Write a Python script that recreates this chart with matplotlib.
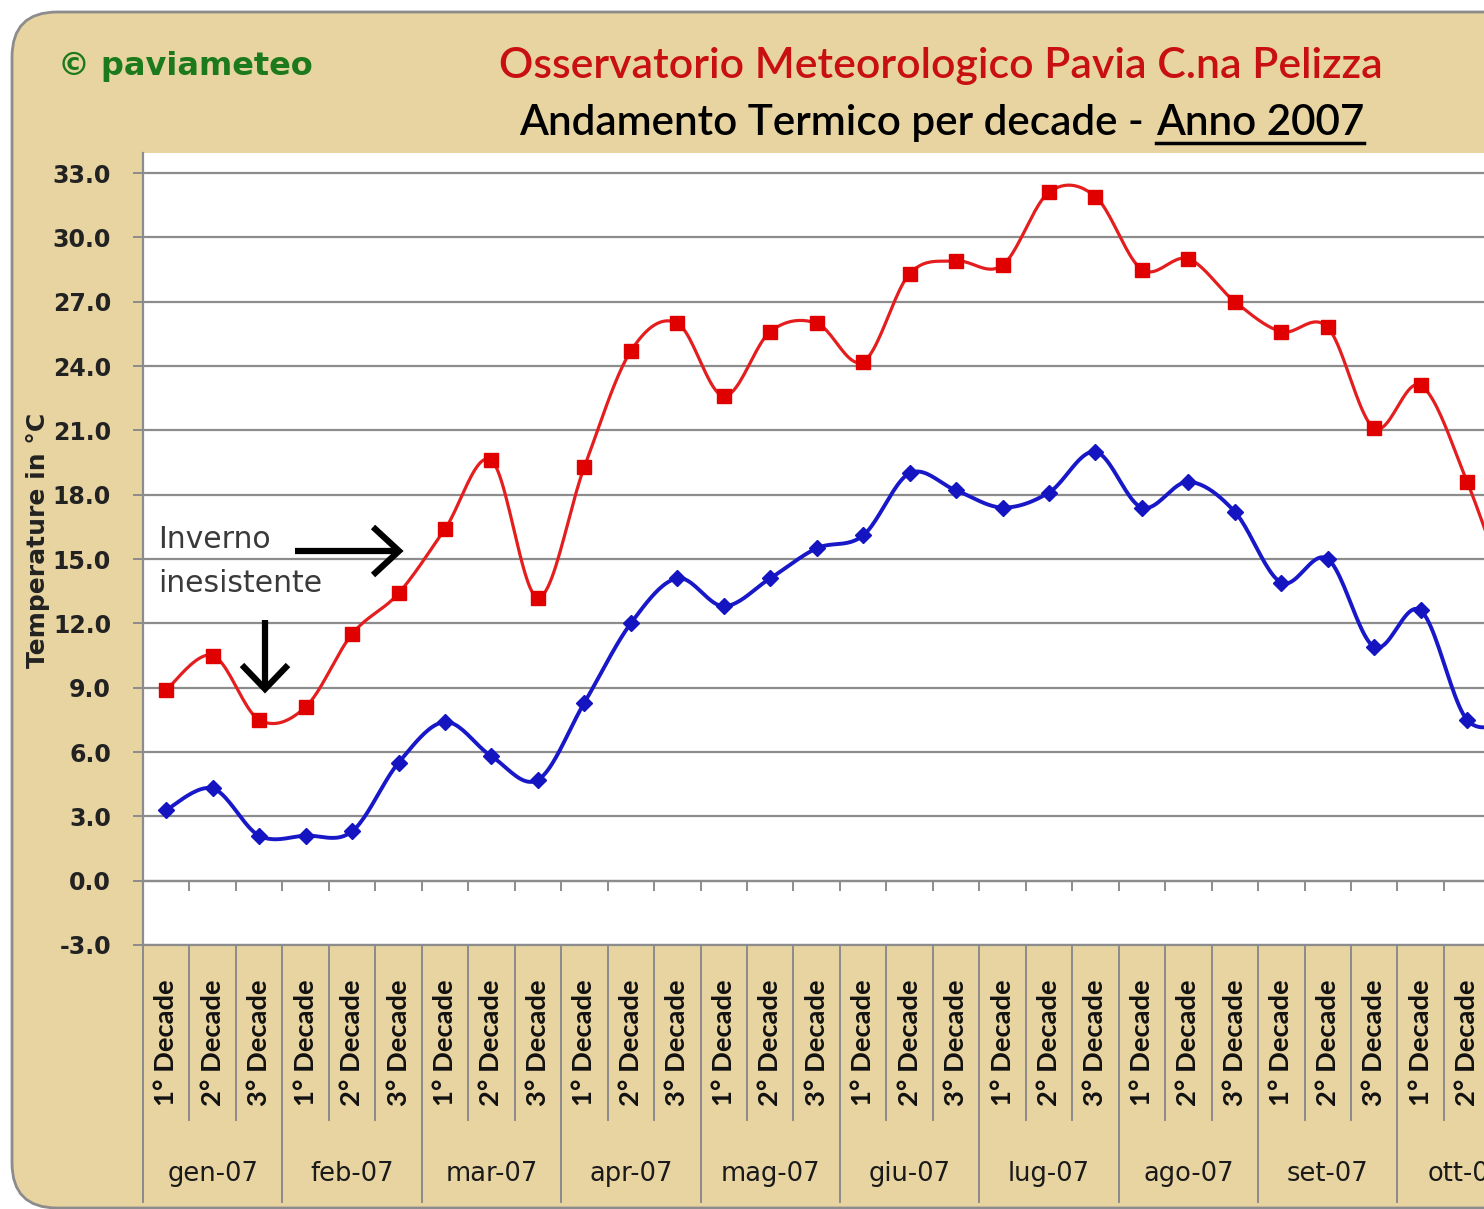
import numpy as np
import matplotlib
matplotlib.use("Agg")
import matplotlib.pyplot as plt
from matplotlib.patches import FancyBboxPatch
from matplotlib.transforms import blended_transform_factory, IdentityTransform
from matplotlib.lines import Line2D

W, H = 1484, 1209

# data
months = ["gen-07", "feb-07", "mar-07", "apr-07", "mag-07", "giu-07",
          "lug-07", "ago-07", "set-07", "ott-07"]
decades = ["1° Decade", "2° Decade", "3° Decade"]
t_max = [8.9, 10.5, 7.5, 8.1, 11.5, 13.4,
         16.4, 19.6, 13.2, 19.3, 24.7, 26.0,
         22.6, 25.6, 26.0, 24.2, 28.3, 28.9,
         28.7, 32.1, 31.9, 28.5, 29.0, 27.0,
         25.6, 25.8, 21.1, 23.1, 18.6, 12.5]
t_min = [3.3, 4.3, 2.1, 2.1, 2.3, 5.5,
         7.4, 5.8, 4.7, 8.3, 12.0, 14.1,
         12.8, 14.1, 15.5, 16.1, 19.0, 18.2,
         17.4, 18.1, 20.0, 17.4, 18.6, 17.2,
         13.9, 15.0, 10.9, 12.6, 7.5, 7.6]


def smooth(y, n=24):
    # Excel-style smoothed line (Catmull-Rom bezier through the points)
    p = np.column_stack([np.arange(len(y)), y]).astype(float)
    out = []
    for i in range(len(p) - 1):
        p0 = p[i - 1] if i > 0 else p[i]
        p1, p2 = p[i], p[i + 1]
        p3 = p[i + 2] if i + 2 < len(p) else p[i + 1]
        c1 = p1 + (p2 - p0) / 6
        c2 = p2 - (p3 - p1) / 6
        t = np.linspace(0, 1, n)[:, None]
        seg = ((1 - t) ** 3) * p1 + 3 * ((1 - t) ** 2) * t * c1 + 3 * (1 - t) * t ** 2 * c2 + t ** 3 * p2
        out.append(seg)
    out = np.vstack(out)
    return out[:, 0], out[:, 1]


def fx(px):
    return px / W


def fy(py):
    return 1 - py / H


fig = plt.figure(figsize=(W / 100, H / 100), dpi=100)
fig.patch.set_facecolor("white")

# parchment frame
frame = FancyBboxPatch((12, 1), 1700, 1196, boxstyle="round,pad=0,rounding_size=45",
                       transform=IdentityTransform(), fc="#E8D4A1", ec="#8c8c8c",
                       lw=2, zorder=-5)
fig.add_artist(frame)

step = 46.46
ax = fig.add_axes([fx(143), fy(945), (W - 143) / W, (945 - 153) / H])
ax.set_facecolor("white")

x = np.arange(len(t_max))

ax.set_yticks(np.arange(-3, 34, 3))
ax.set_yticklabels([f"{v:.1f}" for v in np.arange(-3, 34, 3)],
                   fontsize=17, fontweight="bold", color="#222222")
ax.yaxis.grid(True, color="#8c8c8c", lw=1.6)
ax.tick_params(axis="y", direction="out", length=7, width=1.4, color="#8c8c8c", pad=16)
ax.set_axisbelow(True)

ax.spines["top"].set_visible(False)
ax.spines["right"].set_visible(False)
ax.spines["left"].set_color("#8c8c8c")
ax.spines["left"].set_linewidth(1.6)
ax.spines["bottom"].set_position(("data", 0))
ax.spines["bottom"].set_color("#8c8c8c")
ax.spines["bottom"].set_linewidth(1.6)
ax.set_xticks(np.arange(0.5, 36, 1))
ax.tick_params(axis="x", direction="out", length=7, width=1.4, color="#8c8c8c",
               labelbottom=False)

# limits after the ticks, so they are not widened
ax.set_xlim(-0.5, -0.5 + (W - 143) / step)
ax.set_ylim(-3, -3 + (945 - 153) / 21.444)
ax.axhline(-3, color="#8c8c8c", lw=1.6, clip_on=False, zorder=1)

# series
sx, sy = smooth(t_max)
ax.plot(sx, sy, color="#E41E1E", lw=2.3, zorder=3)
ax.plot(x, t_max, ls="none", marker="s", ms=9.5, color="#E00000", zorder=4)
sx, sy = smooth(t_min)
ax.plot(sx, sy, color="#1818C8", lw=2.8, zorder=3)
ax.plot(x, t_min, ls="none", marker="D", ms=8.5, color="#1414C0", zorder=4)

ax.set_ylabel("Temperature in °C", fontsize=18, fontweight="bold", color="#222222")
ax.yaxis.set_label_coords((50 - 143) / (W - 143), (945 - 540) / (945 - 153))

renderer = fig.canvas.get_renderer()


def fit(t, px, vertical=False):
    bb = t.get_window_extent(renderer=renderer)
    size = bb.height if vertical else bb.width
    t.set_fontsize(t.get_fontsize() * px / size)


# category axis labels below the plot
tr = blended_transform_factory(ax.transData, fig.transFigure)
for k in range(len(t_max) + 1):
    bottom = 1202 if k % 3 == 0 else 1120
    ax.add_line(Line2D([k - 0.5, k - 0.5], [fy(945), fy(bottom)], transform=tr,
                       color="#8c8c8c", lw=1.4, clip_on=False))
for i in range(len(t_max)):
    t = ax.text(i, fy(1043), decades[i % 3], transform=tr, rotation=90,
                ha="center", va="center", fontsize=16, fontweight="bold",
                family="Lato", color="#111111", clip_on=False)
    fit(t, 127, vertical=True)
for m, name in enumerate(months):
    ax.text(3 * m + 1, fy(1174), name, transform=tr,
            ha="center", va="center", fontsize=18.5, color="#1a1a1a", clip_on=False)

# titles
fig.text(fx(58), fy(75), "© paviameteo", fontsize=23, fontweight="bold",
         color="#1C7A1C", ha="left", va="baseline")
t1 = fig.text(fx(941), fy(78), "Osservatorio Meteorologico Pavia C.na Pelizza",
              family="Lato", fontweight="semibold", fontsize=30, color="#C81010",
              ha="center", va="baseline")
fit(t1, 878)
t2 = fig.text(fx(1144), fy(135), "Andamento Termico per decade -",
              family="Lato", fontweight="semibold", fontsize=30, color="black",
              ha="right", va="baseline")
fit(t2, 624)
t3 = fig.text(fx(1156), fy(135), "Anno 2007",
              family="Lato", fontweight="semibold", fontsize=30, color="black",
              ha="left", va="baseline")
fit(t3, 208)
bb = t3.get_window_extent(renderer=renderer)
fig.add_artist(Line2D([bb.x0 / W, bb.x1 / W], [fy(143), fy(143)], transform=fig.transFigure,
                      color="black", lw=2.5))

# annotation
fig.text(fx(158), fy(540), "Inverno", fontsize=21.5, color="#3a3a3a", ha="left", va="center")
fig.text(fx(158), fy(584), "inesistente", fontsize=21.5, color="#3a3a3a", ha="left", va="center")


def arrow(pts):
    xs = [fx(p[0]) for p in pts]
    ys = [fy(p[1]) for p in pts]
    fig.add_artist(Line2D(xs, ys, transform=fig.transFigure, color="black",
                          lw=4.5, solid_joinstyle="miter", solid_capstyle="butt"))


arrow([(295, 551), (398, 551)])
arrow([(373, 527), (399, 551), (373, 575)])
arrow([(265, 620), (265, 688)])
arrow([(242, 665), (265, 689), (288, 665)])

fig.savefig("out.png", dpi=100)
